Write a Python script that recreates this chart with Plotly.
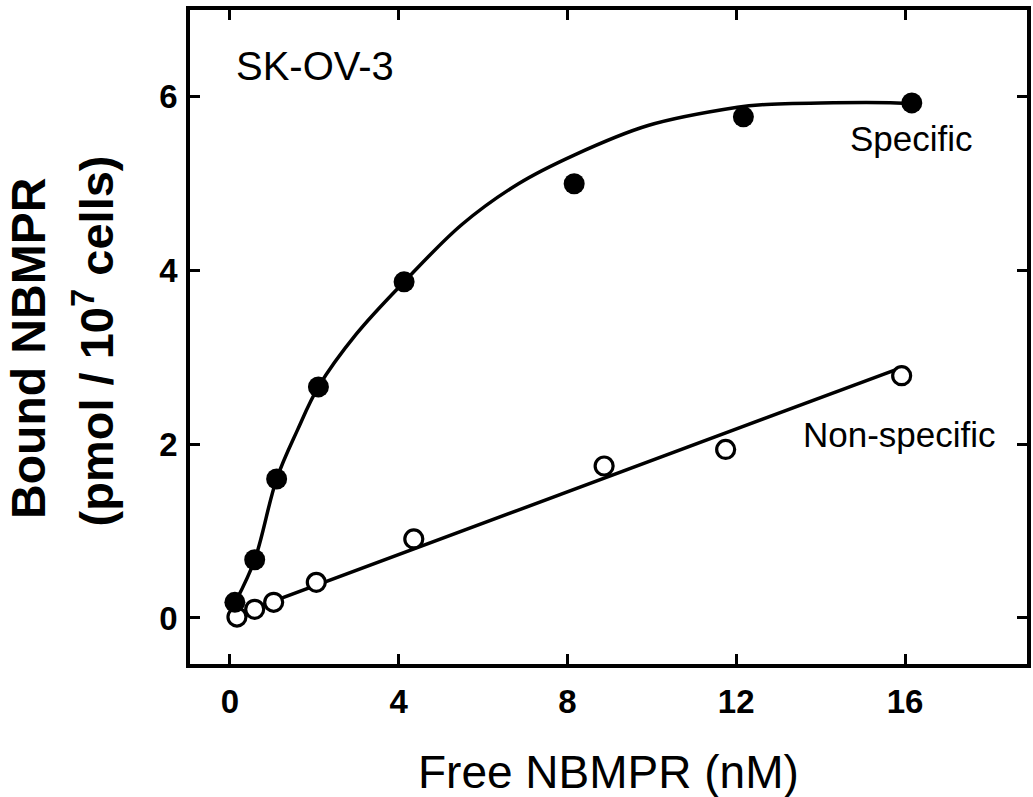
import plotly.graph_objects as go

# Data
spec_x = [0.12, 0.59, 1.11, 2.10, 4.13, 8.16, 12.17, 16.16]
spec_y = [0.18, 0.67, 1.60, 2.66, 3.87, 5.00, 5.77, 5.93]

nonspec_x = [0.17, 0.59, 1.04, 2.05, 4.36, 8.87, 11.75, 15.92]
nonspec_y = [0.01, 0.10, 0.18, 0.41, 0.91, 1.75, 1.94, 2.79]

# Fitted curves as drawn in the picture
spec_curve_x = [0.15, 0.59, 1.11, 1.6, 2.10, 3.0, 4.13, 5.5, 6.84, 8.16, 9.91, 12.03, 12.6, 14.0, 15.8, 16.1]
spec_curve_y = [0.20, 0.67, 1.60, 2.16, 2.66, 3.27, 3.87, 4.53, 5.00, 5.33, 5.67, 5.88, 5.91, 5.93, 5.93, 5.92]

nonspec_line_x = [0.3, 15.9]
nonspec_line_y = [0.06, 2.88]

x_ticks = [0, 4, 8, 12, 16]
y_ticks = [0, 2, 4, 6]

FONT = "Liberation Sans, Arial, Helvetica, sans-serif"

fig = go.Figure()
fig.add_trace(go.Scatter(x=spec_curve_x, y=spec_curve_y, mode="lines",
                         line=dict(color="black", width=3.5, shape="spline", smoothing=1.0),
                         hoverinfo="skip"))
fig.add_trace(go.Scatter(x=nonspec_line_x, y=nonspec_line_y, mode="lines",
                         line=dict(color="black", width=3.5), hoverinfo="skip"))
fig.add_trace(go.Scatter(x=nonspec_x, y=nonspec_y, mode="markers", name="Non-specific",
                         marker=dict(symbol="circle", size=18, color="white",
                                     line=dict(color="black", width=3.2))))
fig.add_trace(go.Scatter(x=spec_x, y=spec_y, mode="markers", name="Specific",
                         marker=dict(symbol="circle", size=21, color="black",
                                     line=dict(color="black", width=0))))

axis_common = dict(showline=True, linewidth=3.5, linecolor="black", mirror="ticks",
                   ticks="inside", ticklen=10, tickwidth=3, tickcolor="black",
                   showgrid=False, zeroline=False,
                   tickfont=dict(family=FONT, size=33, color="black", weight="bold"))

fig.update_xaxes(range=[-0.943, 18.89], tickvals=x_ticks, ticktext=[str(v) for v in x_ticks],
                 ticklabelstandoff=6, **axis_common)
fig.update_yaxes(range=[-0.53, 7.0], tickvals=y_ticks, ticktext=[str(v) for v in y_ticks],
                 ticklabelstandoff=2, **axis_common)

annotations = [
    dict(text="SK-OV-3", x=2.03, y=6.36, xref="x", yref="y", showarrow=False,
         xanchor="center", yanchor="middle", font=dict(family=FONT, size=40, color="black")),
    dict(text="Specific", x=16.16, y=5.52, xref="x", yref="y", showarrow=False,
         xanchor="center", yanchor="middle", font=dict(family=FONT, size=35, color="black")),
    dict(text="Non-specific", x=15.87, y=2.11, xref="x", yref="y", showarrow=False,
         xanchor="center", yanchor="middle", font=dict(family=FONT, size=35, color="black")),
    dict(text="Free NBMPR (nM)", x=0.5, y=-0.165, xref="paper", yref="paper", showarrow=False,
         xanchor="center", yanchor="middle", font=dict(family=FONT, size=46, color="black")),
    dict(text="Bound NBMPR", x=-0.1938, y=0.483, xref="paper", yref="paper", showarrow=False,
         textangle=-90, xanchor="center", yanchor="middle",
         font=dict(family=FONT, size=48, color="black", weight="bold")),
    dict(text="(pmol / 10<sup>7</sup> cells)", x=-0.1153, y=0.494, xref="paper", yref="paper",
         showarrow=False, textangle=-90, xanchor="center", yanchor="middle",
         font=dict(family=FONT, size=47, color="black", weight="bold")),
]

fig.update_layout(width=1033, height=797, showlegend=False,
                  margin=dict(l=190, r=2, t=10, b=133),
                  paper_bgcolor="white", plot_bgcolor="white",
                  annotations=annotations)

fig.write_html("out.html")
